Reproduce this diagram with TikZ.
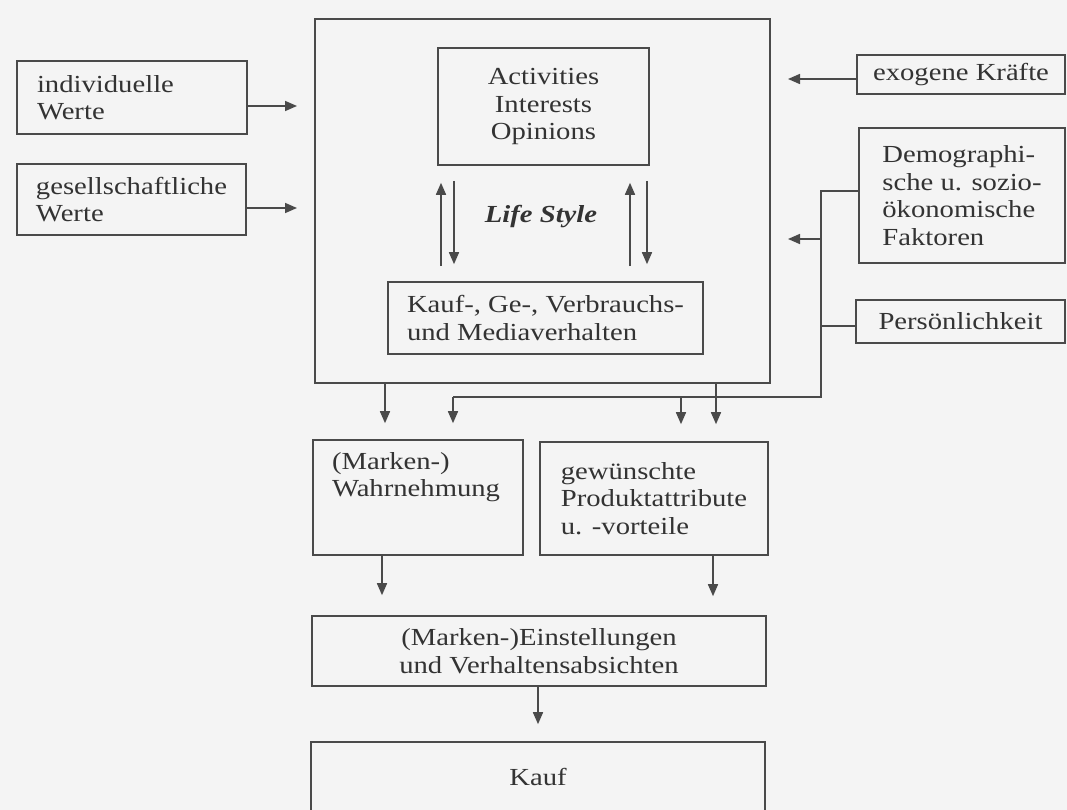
\documentclass[tikz,border=0pt]{standalone}
\usepackage{fontspec}
\setmainfont[FakeStretch=1.17]{Liberation Serif}
\usetikzlibrary{arrows.meta}
\definecolor{ink}{HTML}{4A4A4A}
\definecolor{txt}{HTML}{333333}
\definecolor{paper}{HTML}{F4F4F4}
\begin{document}
\begin{tikzpicture}[x=1pt,y=-1pt,
  box/.style={draw=ink, line width=1.6pt, rectangle, inner sep=0pt, align=left, text=txt,
              font=\fontsize{24.5pt}{27.5pt}\selectfont},
  ln/.style={draw=ink, line width=1.6pt},
  arr/.style={ln, -{Triangle[length=12pt,width=10pt]}}
]
\fill[paper] (0,0) rectangle (1067,810);
\useasboundingbox (0,0) rectangle (1067,810);

% Life style frame and contents
\node[box, minimum width=455pt, minimum height=364pt] (ls) at (542.5,201) {};
\node[box, minimum width=211pt, minimum height=117pt, align=center] (aio) at (543.5,106.5) {Activities\\Interests\\Opinions};
\node[text=txt, inner sep=0pt, font=\fontsize{24.5pt}{27.5pt}\selectfont\bfseries\itshape] (lstext) at (541,217) {Life Style};
\node[box, minimum width=315pt, minimum height=72pt] (kauf1) at (545.5,318) {Kauf-, Ge-, Verbrauchs-\\und Mediaverhalten};

% left inputs
\node[box, minimum width=230pt, minimum height=73pt, text width=190pt, inner xsep=20pt] (indiv) at (132,97.5) {individuelle\\Werte};
\node[box, minimum width=229pt, minimum height=71pt] (gesell) at (131.5,199.5) {gesellschaftliche\\Werte};

% right inputs
\node[box, minimum width=208pt, minimum height=39pt] (exo) at (961,74.5) {exogene Kräfte};
\node[box, minimum width=206pt, minimum height=135pt] (demo) at (962,195.5) {Demographi-\\sche u. sozio-\\ökonomische\\Faktoren};
\node[box, minimum width=209pt, minimum height=43pt] (pers) at (960.5,321.5) {Persönlichkeit};

% lower chain
\node[box, minimum width=210pt, minimum height=115pt] (wahr) at (418,497.5)
  {\parbox[c][91pt][t]{172pt}{\raggedright (Marken-)\\Wahrnehmung}};
\node[box, minimum width=228pt, minimum height=113pt] (prod) at (654,498.5) {gewünschte\\Produktattribute\\u. -vorteile};
\node[box, minimum width=454pt, minimum height=70pt, align=center] (einst) at (539,651) {(Marken-)Einstellungen\\und Verhaltensabsichten};
\node[box, minimum width=454pt, minimum height=70pt] (kauf) at (538,777) {Kauf};

% coordinates for free ends / junctions
\coordinate (a1) at (297,106);
\coordinate (a2) at (297,208);
\coordinate (a3) at (788,79);
\coordinate (a4) at (788,239);
\coordinate (j1) at (821,191);
\coordinate (j2) at (821,397);
\coordinate (j3) at (453,397);
\coordinate (j4) at (681,397);
\coordinate (p1) at (821,326);

% arrows from the left
\draw[arr] (indiv.east |- a1) -- (a1);
\draw[arr] (gesell.east |- a2) -- (a2);

% arrows from the right
\draw[arr] (exo.west |- a3) -- (a3);
\draw[ln] (demo.west |- j1) -- (j1) -- (j2) -- (j3);
\draw[ln] (pers.west |- p1) -- (p1);
\draw[arr] (a4 -| j1) -- (a4);
\draw[arr, shorten >=16pt] (j3) -- (j3 |- wahr.north);
\draw[arr, shorten >=17pt] (j4) -- (j4 |- prod.north);

% Life style internal double arrows
\draw[arr, shorten <=15pt, shorten >=17pt] ([xshift=-102.5pt]aio.south |- kauf1.north) -- ([xshift=-102.5pt]aio.south);
\draw[arr, shorten <=15pt, shorten >=17pt] ([xshift=-89.5pt]aio.south) -- ([xshift=-89.5pt]aio.south |- kauf1.north);
\draw[arr, shorten <=15pt, shorten >=17pt] ([xshift=86.5pt]aio.south |- kauf1.north) -- ([xshift=86.5pt]aio.south);
\draw[arr, shorten <=15pt, shorten >=17pt] ([xshift=103.5pt]aio.south) -- ([xshift=103.5pt]aio.south |- kauf1.north);

% from life style frame downwards
\draw[arr, shorten >=16pt] ([xshift=-157.5pt]ls.south) -- ([xshift=-157.5pt]ls.south |- wahr.north);
\draw[arr, shorten >=17pt] ([xshift=173.5pt]ls.south) -- ([xshift=173.5pt]ls.south |- prod.north);

% lower chain arrows
\draw[arr, shorten >=20pt] ([xshift=-36pt]wahr.south) -- ([xshift=-36pt]wahr.south |- einst.north);
\draw[arr, shorten >=19pt] ([xshift=59pt]prod.south) -- ([xshift=59pt]prod.south |- einst.north);
\draw[arr, shorten >=17pt] ([xshift=-1pt]einst.south) -- ([xshift=-1pt]einst.south |- kauf.north);
\end{tikzpicture}
\end{document}
